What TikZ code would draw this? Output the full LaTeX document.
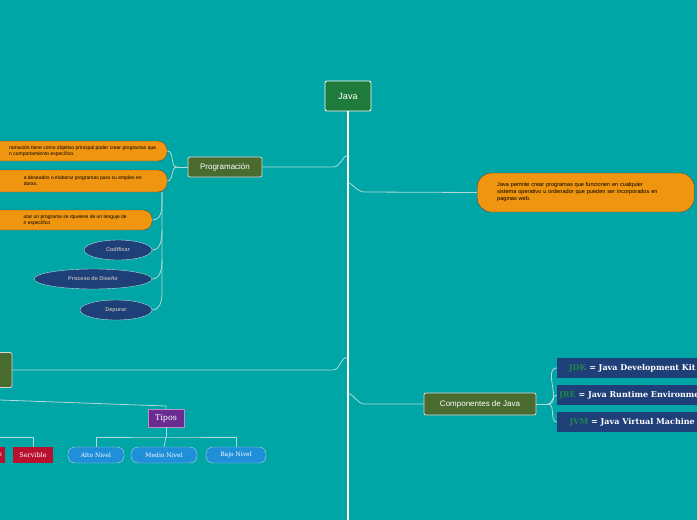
\documentclass[tikz,border=0pt]{standalone}
\usepackage{fontspec}
\setmainfont{Liberation Sans}
\newfontfamily\serf{DejaVu Serif}
\usetikzlibrary{shapes.geometric}
\begin{document}
\begin{tikzpicture}[x=1pt,y=-1pt,
 ln/.style={draw=white!70!teal,line width=0.8pt},
 gbox/.style={draw=white!85!black,fill=olivebg,rounded corners=2pt,text=white,font=\fontsize{8}{9}\selectfont,line width=0.8pt},
 obox/.style={draw=black!70,fill=orangebg,rounded corners=9pt,font=\fontsize{5}{6}\selectfont,align=left,text=black,anchor=west},
 ell/.style={ellipse,draw=white!70!teal,fill=navybg,text=gray!60!white,font=\bfseries\fontsize{5.5}{6}\selectfont},
 pill/.style={draw=white!70!teal,fill=pillbg,rounded corners=7pt,text=white,font=\serf\fontsize{6}{7}\selectfont,minimum height=16pt},
 rbox/.style={fill=redbg,text=white,font=\serf\fontsize{6.5}{7}\selectfont,minimum height=16pt},
 comp/.style={fill=navybg,text=white,font=\serf\bfseries\fontsize{8}{9}\selectfont,anchor=west,minimum height=20pt,minimum width=150pt,align=left}]
\definecolor{bg}{HTML}{00A5A5}
\definecolor{olivebg}{HTML}{4A6B30}
\definecolor{orangebg}{HTML}{F0950F}
\definecolor{navybg}{HTML}{1E3F78}
\definecolor{pillbg}{HTML}{1F8FDA}
\definecolor{redbg}{HTML}{B8102E}
\definecolor{javag}{HTML}{1E7B3C}
\definecolor{purp}{HTML}{6A2C91}
\definecolor{jdkg}{HTML}{1E8A4A}
\fill[bg] (0,0) rectangle (697,520);
\useasboundingbox (0,0) rectangle (697,520);
\tikzset{every node/.append style={inner sep=2pt}}
% spine
\node[draw=white,fill=javag,rounded corners=2pt,text=white,font=\fontsize{9}{10}\selectfont,minimum width=46pt,minimum height=30pt,line width=0.8pt] (java) at (348,96) {Java};
\coordinate (bot) at (348,520);
\draw[white,line width=2.5pt] (java.south) -- (bot);
\coordinate (s1) at (348,155);
\coordinate (s2) at (348,182);
\coordinate (s3) at (348,358);
\coordinate (s4) at (348,393);
% Programacion
\node[gbox,minimum width=74pt,minimum height=20pt] (prog) at (225,167) {Programación};
\draw[ln] (prog.east) -- (333,167) to[out=0,in=200] (s1);
\node[obox,minimum width=187pt,minimum height=20pt] (o1) at (-20,151) {\hspace{18pt}ramación tiene como objetivo principal poder crear programas que\\\hspace{18pt}n comportamiento específico.};
\node[obox,minimum width=187pt,minimum height=22pt] (o2) at (-20,181) {\hspace{18pt}a deseados o elaborar programas para su empleo en\\\hspace{18pt}doras.};
\node[obox,minimum width=172pt,minimum height=20pt] (o3) at (-20,220) {\hspace{18pt}utar un programa se rqueiere de un lenguje de\\\hspace{18pt}n especifico};
\node[ell,minimum width=68pt,minimum height=20pt] (cod) at (118,250) {Codificar};
\node[ell,minimum width=118pt,minimum height=20pt] (pd) at (93,279) {Proceso de Diseño};
\node[ell,minimum width=72pt,minimum height=20pt] (dep) at (116,310) {Depurar};
\coordinate (pj) at (177,167);
\draw[ln] (prog.west) -- (pj);
\draw[ln] (pj) to[out=180,in=0] (o1.east);
\draw[ln] (pj) to[out=180,in=0] (o2.east);
\draw[ln] (162,192) to[out=270,in=0] (o3.east);
\draw[ln] (162,192) -- (162,295) to[out=270,in=0] (dep.east);
\draw[ln] (162,230) to[out=270,in=0] (cod.east);
\draw[ln] (162,260) to[out=270,in=0] (pd.east);
% description
\node[obox,rounded corners=14pt,minimum width=217pt,minimum height=39pt,text width=205pt,font=\fontsize{5.6}{7}\selectfont] (desc) at (477,192.5) {\hspace{14pt}Java permite crear programas que funcionen en cualquier\\\hspace{14pt}sistema operativo u ordenador que pueden ser incorporados en\\\hspace{14pt}paginas web.};
\draw[ln] (s2) to[out=-30,in=180] (365,192) -- (desc.west);
% left node
\node[gbox,minimum width=40pt,minimum height=35pt] (lang) at (-8,370) {\hspace{12pt}a};
\draw[ln] (lang.east) -- (333,370) to[out=0,in=160] (s3);
\node[fill=purp,draw=white!50!purp,text=white,font=\serf\fontsize{8}{9}\selectfont,minimum width=36pt,minimum height=18pt] (tipos) at (166,418) {Tipos};
\draw[ln] (0,400) -- (166,406) -- (tipos.north);
\node[rbox,minimum width=40pt] (serv) at (33,455) {Servible};
\node[rbox,minimum width=14pt] (r0) at (-2,455) {\hspace{4pt}e};
\draw[ln] (33,437) -- (serv.north); \draw[ln] (-10,437) -- (33,437);
\node[pill,minimum width=56pt] (alto) at (96,455) {Alto Nivel};
\node[pill,minimum width=66pt] (medio) at (164,455) {Medio Nivel};
\node[pill,minimum width=60pt] (bajo) at (236,455) {Bajo Nivel};
\coordinate (tj) at (166,437);
\draw[ln] (tipos.south) -- (tj);
\draw[ln] (alto.north) |- (tj) -| (bajo.north);
\draw[ln] (tj) -- (medio.north);
% componentes
\node[gbox,minimum width=112pt,minimum height=22pt] (comp) at (480,404) {Componentes de Java};
\draw[ln] (s4) to[out=-20,in=180] (365,404) -- (comp.west);
\node[comp] (jdk) at (557,368) {\textcolor{jdkg}{JDK} = Java Development Kit};
\node[comp] (jre) at (557,395) {\textcolor{jdkg}{JRE} = Java Runtime Environment};
\node[comp] (jvm) at (557,422) {\textcolor{jdkg}{JVM} = Java Virtual Machine};
\coordinate (cj) at (548,404);
\draw[ln] (comp.east) -- (cj);
\draw[ln] (cj) to[out=0,in=180] (jdk.west);
\draw[ln] (cj) to[out=0,in=180] (jre.west);
\draw[ln] (cj) to[out=0,in=180] (jvm.west);
\end{tikzpicture}
\end{document}
